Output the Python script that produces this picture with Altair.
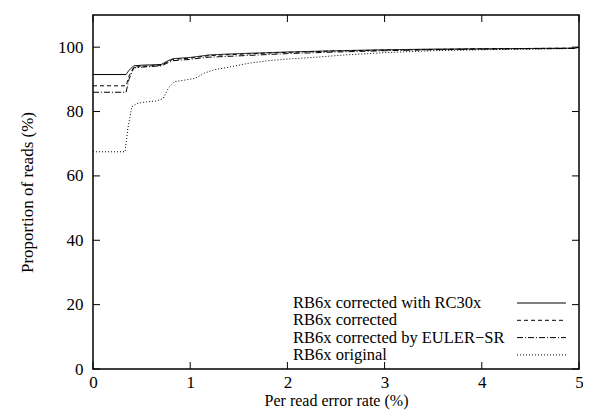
import altair as alt
import pandas as pd

series_names = [
    "RB6x corrected with RC30x",
    "RB6x corrected",
    "RB6x corrected by EULER\u2212SR",
    "RB6x original",
]

x_main = [0, 0.34, 0.37, 0.42, 0.5, 0.6, 0.7, 0.76, 0.82, 0.9, 1.0, 1.1, 1.2, 1.5,
          2.0, 2.5, 3.0, 3.5, 4.0, 4.5, 4.95, 5.0]
y_rc30x = [91.5, 91.5, 92.8, 94.2, 94.4, 94.5, 94.6, 95.6, 96.4, 96.6, 96.8, 97.2,
           97.6, 98.0, 98.5, 98.9, 99.2, 99.4, 99.5, 99.6, 99.7, 100]
y_corr = [88, 88, 91, 93.8, 94.0, 94.2, 94.4, 95.3, 96.2, 96.4, 96.6, 97.0, 97.4,
          97.8, 98.4, 98.8, 99.1, 99.3, 99.5, 99.6, 99.7, 100]
y_euler = [86, 86, 90, 93.6, 93.8, 94.0, 94.2, 95.0, 95.8, 96.0, 96.2, 96.6, 96.9,
           97.3, 98.0, 98.5, 98.9, 99.2, 99.4, 99.5, 99.6, 100]
x_orig = [0, 0.33, 0.36, 0.40, 0.45, 0.55, 0.65, 0.72, 0.78, 0.84, 0.95, 1.05, 1.15,
          1.25, 1.4, 1.6, 1.8, 2.0, 2.3, 2.6, 3.0, 3.5, 4.0, 4.5, 4.95, 5.0]
y_orig = [67.5, 67.5, 75, 81.5, 82.5, 83.0, 83.3, 84, 87.5, 89.3, 89.8, 90.3, 92.0,
          93.0, 93.8, 95.0, 95.8, 96.3, 96.9, 97.6, 98.3, 98.9, 99.2, 99.4, 99.6, 100]

x_ticks = [0, 1, 2, 3, 4, 5]
y_ticks = [0, 20, 40, 60, 80, 100]

dash_styles = [[1, 0], [4, 3], [6, 2, 1, 2], [1, 2]]

rows = []
for name, xs, ys in [
    (series_names[0], x_main, y_rc30x),
    (series_names[1], x_main, y_corr),
    (series_names[2], x_main, y_euler),
    (series_names[3], x_orig, y_orig),
]:
    for i, (a, b) in enumerate(zip(xs, ys)):
        rows.append({"series": name, "x": a, "y": b, "i": i})
df = pd.DataFrame(rows)

W, H = 486, 354
FONT = "Liberation Serif"
FS = 17

axis_style = dict(labelFont=FONT, labelFontSize=FS, labelColor="black",
                  titleFont=FONT, titleColor="black",
                  titleFontWeight="normal", format="d",
                  grid=False, domain=False, ticks=False)

xscale = alt.Scale(domain=[0, 5], nice=False)
yscale = alt.Scale(domain=[0, 110], nice=False)

lines = alt.Chart(df).mark_line(color="black", strokeWidth=1, clip=True).encode(
    x=alt.X("x:Q", scale=xscale,
            axis=alt.Axis(values=x_ticks, title="Per read error rate (%)",
                          labelPadding=5, titlePadding=2, titleFontSize=16,
                          labelFlush=False, **axis_style)),
    y=alt.Y("y:Q", scale=yscale,
            axis=alt.Axis(values=y_ticks, title="Proportion of reads (%)",
                          labelPadding=10, titlePadding=21, titleFontSize=FS,
                          **axis_style)),
    detail="series:N",
    order="i:Q",
    strokeDash=alt.StrokeDash("series:N", scale=alt.Scale(domain=series_names, range=dash_styles),
                              legend=None),
)

xt = pd.DataFrame({"t": x_ticks})
yt = pd.DataFrame({"t": y_ticks})
TL = 7
tick_bottom = alt.Chart(xt).mark_rule(color="black", strokeWidth=1).encode(
    x=alt.X("t:Q", scale=xscale), y=alt.value(H), y2=alt.value(H - TL))
tick_top = alt.Chart(xt).mark_rule(color="black", strokeWidth=1).encode(
    x=alt.X("t:Q", scale=xscale), y=alt.value(0), y2=alt.value(TL))
tick_left = alt.Chart(yt).mark_rule(color="black", strokeWidth=1).encode(
    y=alt.Y("t:Q", scale=yscale), x=alt.value(0), x2=alt.value(TL))
tick_right = alt.Chart(yt).mark_rule(color="black", strokeWidth=1).encode(
    y=alt.Y("t:Q", scale=yscale), x=alt.value(W), x2=alt.value(W - TL))

leg = pd.DataFrame({"series": series_names, "k": list(range(4))})
leg["py"] = 288 + 17.3 * leg["k"]
leg["tx"] = 200
leg["lx1"] = 424
leg["lx2"] = 473

leg_text = alt.Chart(leg).mark_text(align="left", baseline="middle", font=FONT,
                                    fontSize=16.5, color="black").encode(
    x=alt.X("tx:Q", scale=None), y=alt.Y("py:Q", scale=None), text="series:N")
leg_line = alt.Chart(leg).mark_rule(color="black", strokeWidth=1).encode(
    x=alt.X("lx1:Q", scale=None), x2="lx2:Q", y=alt.Y("py:Q", scale=None),
    strokeDash=alt.StrokeDash("series:N", scale=alt.Scale(domain=series_names, range=dash_styles),
                              legend=None))

chart = alt.layer(lines, tick_bottom, tick_top, tick_left, tick_right, leg_text, leg_line).properties(
    width=W, height=H,
    background="white",
    autosize=alt.AutoSizeParams(type="none"),
    padding={"left": 85, "top": 7, "right": 4, "bottom": 41},
).configure_view(
    stroke="black", strokeWidth=1.5
)

chart.save("out.html", embed_options={"renderer": "svg", "actions": False})
